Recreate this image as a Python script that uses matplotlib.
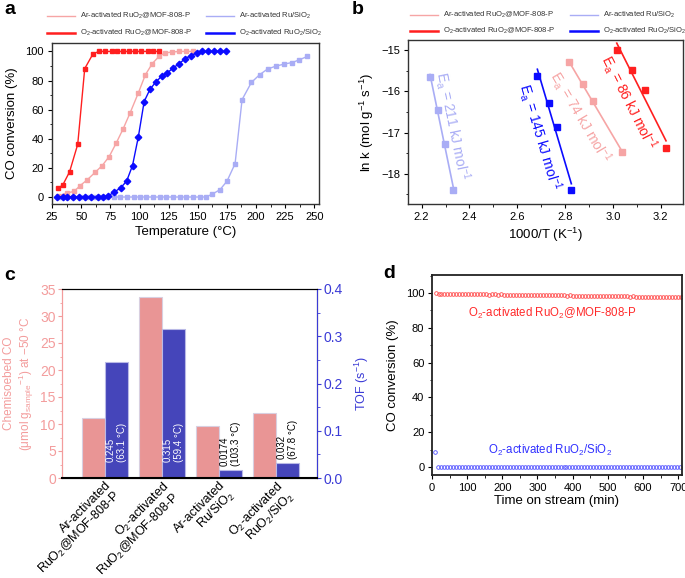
import matplotlib
matplotlib.use('Agg')
from matplotlib import pyplot as plt
from matplotlib.lines import Line2D
from matplotlib.ticker import MultipleLocator, FormatStrFormatter
from matplotlib.transforms import ScaledTranslation
import numpy as np

plt.rcParams['font.family'] = ['Liberation Sans', 'DejaVu Sans']
plt.rcParams['mathtext.fontset'] = 'custom'
plt.rcParams['mathtext.rm'] = 'Liberation Sans'
plt.rcParams['mathtext.it'] = 'Liberation Sans:italic'
plt.rcParams['mathtext.bf'] = 'Liberation Sans:bold'

# colours
PINK = '#f6a5a5'
RED = '#ff1f1f'
LAV = '#a9adf5'
BLUE = '#0b0bff'

# ---- panel a: light-off curves
red_T = [30, 34, 40, 47, 53, 60, 65, 70, 76, 81, 86, 91, 96, 101, 107, 112, 117]
red_conv = [6.2, 8.0, 17.3, 36.2, 88.2, 98.2, 100, 100, 100, 100, 100, 100, 100, 100, 100, 100, 100]

pink_T = [30, 38, 44, 49, 55, 62, 68, 74, 80, 86, 92, 99, 105, 111, 117, 122, 128, 134, 140, 146]
pink_conv = [0.8, 2.8, 3.9, 7.8, 11.7, 17.0, 21.6, 27.8, 37.0, 46.9, 57.9, 71.5, 83.9, 91.7, 96.8,
             99.0, 99.6, 100, 100, 100]

blue_T = [29, 34, 38, 43, 48, 53, 58, 64, 69, 73, 78, 84, 89, 94, 99, 104, 109, 114, 119, 124,
          129, 134, 139, 144, 149, 154, 159, 164, 169, 174]
blue_conv = [0, 0, 0, 0, 0, 0, 0, 0, 0, 0.7, 3.2, 6.4, 11.0, 21.6, 41.3, 65.6, 74.0, 79.0, 83.0, 85.3,
             88.8, 91.5, 95.0, 97.2, 98.9, 100, 100, 100, 100, 100]

lav_T = [32, 38, 43, 49, 55, 61, 66, 72, 78, 83, 89, 95, 100, 106, 112, 118, 123, 129, 135, 140,
         146, 152, 157, 162, 169, 175, 182, 188, 196, 203, 210, 217, 224, 231, 237, 244]
lav_conv = [0, 0, 0, 0, 0, 0, 0, 0, 0, 0, 0, 0, 0, 0, 0, 0, 0, 0, 0, 0, 0, 0, 0,
            1.8, 5.0, 10.8, 22.9, 66.9, 78.7, 84.0, 88.0, 89.9, 91.3, 92.4, 94.2, 96.6]

# ---- panel b: Arrhenius plots
lav_x = [2.235, 2.267, 2.299, 2.332]
lav_lnk = [-15.66, -16.45, -17.28, -18.40]
blue_x = [2.684, 2.733, 2.766, 2.826]
blue_lnk = [-15.64, -16.29, -16.87, -18.40]
pink_x = [2.815, 2.874, 2.915, 3.037]
pink_lnk = [-15.30, -15.82, -16.23, -17.46]
red_x = [3.016, 3.080, 3.136, 3.222]
red_lnk = [-15.00, -15.48, -15.97, -17.37]
ea_values = ['211', '145', '74', '86']

# ---- panel c: chemisorption and TOF
samples = ['Ar-activated\nRuO$_2$@MOF-808-P', 'O$_2$-activated\nRuO$_2$@MOF-808-P',
           'Ar-activated\nRu/SiO$_2$', 'O$_2$-activated\nRuO$_2$/SiO$_2$']
chem_co = [11.1, 33.5, 9.7, 12.0]
tof = [0.245, 0.315, 0.0174, 0.032]
tof_text = ['0.245', '0.315', '0.0174', '0.032']
tof_temp = ['63.1', '59.4', '103.3', '67.8']

# ---- panel d: stability
time_red = np.arange(10, 711, 8.5)
conv_red = [99.8, 99.7, 99.5, 99.6, 99.4, 99.5, 99.3, 99.4, 99.4, 99.3, 99.4,
            99.3, 99.2, 99.3, 99.3, 99.2, 99.2, 99.3, 99.1, 99.2, 99.2, 99.1, 99.2, 99.0, 99.1, 99.1,
            99.0, 99.1, 99.0, 99.0, 98.9,
            99.0, 98.9, 98.9, 99.0, 98.8, 98.9, 98.8, 98.8, 98.9, 98.7, 98.8, 98.7, 98.7, 98.6, 98.7,
            98.6, 98.6, 98.5, 98.6, 98.5,
            98.5, 98.4, 98.5, 98.4, 98.3, 98.4, 98.3, 98.3, 98.2, 98.3, 98.2, 98.1, 98.2, 98.1, 98.0,
            98.1, 98.0, 97.9, 97.6, 97.8,
            97.9, 97.8, 97.9, 97.8, 97.7, 97.8, 97.6, 97.7, 97.6, 97.5, 97.6, 97.5]
time_blue = np.concatenate([[9.5], np.arange(17, 711, 8.5)])
conv_blue = [8.8] + [0.0] * 82

W, H = 685, 578
fig = plt.figure(figsize=(W / 100, H / 100), dpi=100)


def box(l, t, r, b):
    return [l / W, 1 - b / H, (r - l) / W, (b - t) / H]


def style_frame(ax, color='#333333', size=8):
    for s in ax.spines.values():
        s.set_color(color)
        s.set_linewidth(1.0)
    ax.tick_params(which='both', direction='out', top=False, right=False, labelsize=size, pad=2.5)
    ax.tick_params(which='major', length=3)
    ax.tick_params(which='minor', length=1.8)


def legend_entry(x0, y, color, lw, label):
    fig.add_artist(Line2D([x0 / W, (x0 + 28) / W], [1 - y / H, 1 - y / H],
                          transform=fig.transFigure, color=color, lw=lw))
    fig.text((x0 + 33) / W, 1 - y / H, label, fontsize=5.5, va='center', color='#333333')


lbl = ['Ar-activated RuO$_2$@MOF-808-P', 'O$_2$-activated RuO$_2$@MOF-808-P',
       'Ar-activated Ru/SiO$_2$', 'O$_2$-activated RuO$_2$/SiO$_2$']

# ================= a
ax = fig.add_axes(box(51.5, 43, 319, 204))
ax.plot(lav_T, lav_conv, '-s', color=LAV, ms=3.5, lw=1, zorder=2)
ax.plot(pink_T, pink_conv, '-s', color=PINK, ms=3.5, lw=1, zorder=3)
ax.plot(blue_T, blue_conv, '-D', color=BLUE, ms=3.3, lw=1, zorder=4)
ax.plot(red_T, red_conv, '-s', color=RED, ms=3.5, lw=1, zorder=5)
ax.set_xlim(24.5, 254)
ax.set_ylim(-4.8, 105.8)
ax.xaxis.set_major_locator(MultipleLocator(25))
ax.xaxis.set_minor_locator(MultipleLocator(12.5))
ax.yaxis.set_major_locator(MultipleLocator(20))
ax.yaxis.set_minor_locator(MultipleLocator(10))
style_frame(ax)
ax.set_xlabel('Temperature (°C)', fontsize=9.5, labelpad=3)
ax.set_ylabel('CO conversion (%)', fontsize=9.5, labelpad=5)

legend_entry(47, 16, PINK, 1.0, lbl[0])
legend_entry(47, 33, RED, 1.8, lbl[1])
legend_entry(206, 16, LAV, 1.0, lbl[2])
legend_entry(206, 33, BLUE, 1.8, lbl[3])

# ================= b
ax = fig.add_axes(box(408, 40, 683, 204))
series_b = [(lav_x, lav_lnk, LAV, 2.33, -16.85),
            (blue_x, blue_lnk, BLUE, 2.695, -17.11),
            (pink_x, pink_lnk, PINK, 2.862, -16.63),
            (red_x, red_lnk, RED, 3.067, -16.27)]
for (x, y, c, tx, ty), ea in zip(series_b, ea_values):
    ax.plot(x, y, 's', color=c, ms=4)
    k, b0 = np.polyfit(x, y, 1)
    xs = np.array([min(x), max(x)])
    ax.plot(xs, k * xs + b0, '-', color=c, lw=1.2)
    ax.text(tx, ty, 'E$_\\mathrm{a}$ = ' + ea + ' kJ mol$^{-1}$', color=c, fontsize=10,
            rotation=np.degrees(np.arctan(k)), transform_rotates_text=True,
            rotation_mode='anchor', ha='center', va='center')
ax.set_xlim(2.143, 3.293)
ax.set_ylim(-18.73, -14.76)
ax.xaxis.set_major_locator(MultipleLocator(0.2))
ax.xaxis.set_minor_locator(MultipleLocator(0.1))
ax.yaxis.set_major_locator(MultipleLocator(1))
ax.yaxis.set_minor_locator(MultipleLocator(0.5))
ax.xaxis.set_major_formatter(FormatStrFormatter('%.1f'))
style_frame(ax)
ax.set_xlabel('1000/T (K$^{-1}$)', fontsize=9.5, labelpad=3)
ax.set_ylabel('ln k (mol g$^{-1}$ s$^{-1}$)', fontsize=9.5, labelpad=4)

legend_entry(410, 15, PINK, 1.0, lbl[0])
legend_entry(410, 31, RED, 1.8, lbl[1])
legend_entry(570, 15, LAV, 1.0, lbl[2])
legend_entry(570, 31, BLUE, 1.8, lbl[3])

# ================= c
CPINK = '#e99595'
CBLUE = '#4545ba'
LPINK = '#f39c9c'
RBLUE = '#3b3bd6'
ax = fig.add_axes(box(62, 289, 317, 478))
ax2 = ax.twinx()
pos = np.arange(len(samples))
ax.bar(pos - 0.2, chem_co, width=0.4, color=CPINK, edgecolor='#d8cfe0', lw=0.8)
ax2.bar(pos + 0.2, tof, width=0.4, color=CBLUE, edgecolor='#b9b9e6', lw=0.8)
ax.set_xlim(-0.75, 3.72)
ax.set_ylim(0, 35)
ax2.set_ylim(0, 0.4)
for i, (t, s, tmp) in enumerate(zip(tof, tof_text, tof_temp)):
    inside = t > 0.1
    ax2.text(i + 0.2, 0.033 if inside else t + 0.009, s + '\n(' + tmp + ' °C)',
             color='white' if inside else 'black', fontsize=7, rotation=90,
             ha='center', va='bottom', multialignment='left')
ax.yaxis.set_major_locator(MultipleLocator(5))
ax.yaxis.set_minor_locator(MultipleLocator(2.5))
ax2.yaxis.set_major_locator(MultipleLocator(0.1))
ax2.yaxis.set_minor_locator(MultipleLocator(0.05))
ax2.yaxis.set_major_formatter(FormatStrFormatter('%.1f'))
ax.set_xticks(pos)
ax.set_xticklabels(samples, rotation=45, ha='right', va='top', rotation_mode='anchor',
                   multialignment='right', fontsize=9.0, linespacing=1.0)
shift = ScaledTranslation(0, 11 / 100, fig.dpi_scale_trans)
for t in ax.get_xticklabels():
    t.set_transform(t.get_transform() + shift)
ax.tick_params(axis='x', length=0, pad=1)
for a_, col in ((ax, LPINK), (ax2, RBLUE)):
    a_.tick_params(axis='y', which='both', direction='out', colors=col, labelsize=10, pad=1.5)
    a_.tick_params(axis='y', which='major', length=3)
    a_.tick_params(axis='y', which='minor', length=1.8)
ax.spines['left'].set_color(LPINK)
ax2.spines['left'].set_color(LPINK)
ax2.spines['right'].set_color(RBLUE)
ax2.spines['bottom'].set_linewidth(1.5)
ax.set_ylabel('Chemisoebed CO\n(μmol g$_\\mathrm{sample}$$^{-1}$) at −50 °C', color=LPINK,
              fontsize=8.5, labelpad=3, linespacing=1.15)
ax2.set_ylabel('TOF (s$^{-1}$)', color=RBLUE, fontsize=9, labelpad=7)

# ================= d
ax = fig.add_axes(box(432, 275, 682, 475))
ax.plot(time_red, conv_red, 'o', mfc='none', mec='#ff4a4a', ms=2.6, mew=0.6)
ax.plot(time_blue, conv_blue, 'o', mfc='none', mec='#4f4fff', ms=2.6, mew=0.6)
ax.text(343, 88.5, 'O$_2$-activated RuO$_2$@MOF-808-P', color='#ff2a2a', fontsize=8.3,
        ha='center', va='center')
ax.text(335, 9.3, 'O$_2$-activated RuO$_2$/SiO$_2$', color='#3030ff', fontsize=8.3,
        ha='center', va='center')
ax.set_xlim(0, 711)
ax.set_ylim(-4.6, 110.4)
ax.xaxis.set_major_locator(MultipleLocator(100))
ax.xaxis.set_minor_locator(MultipleLocator(50))
ax.yaxis.set_major_locator(MultipleLocator(20))
ax.yaxis.set_minor_locator(MultipleLocator(10))
style_frame(ax, color='#222222')
for s in ax.spines.values():
    s.set_linewidth(1.3)
ax.set_xlabel('Time on stream (min)', fontsize=9.5, labelpad=2)
ax.set_ylabel('CO conversion (%)', fontsize=9.5, labelpad=5)

# panel letters
for letter, (px, py) in zip('abcd', [(10, 9), (358, 9), (10, 276), (389, 274)]):
    fig.text(px / W, 1 - py / H, letter, fontsize=14, fontweight='bold', ha='center', va='center')

fig.savefig('out.png', dpi=100)
plt.close(fig)
